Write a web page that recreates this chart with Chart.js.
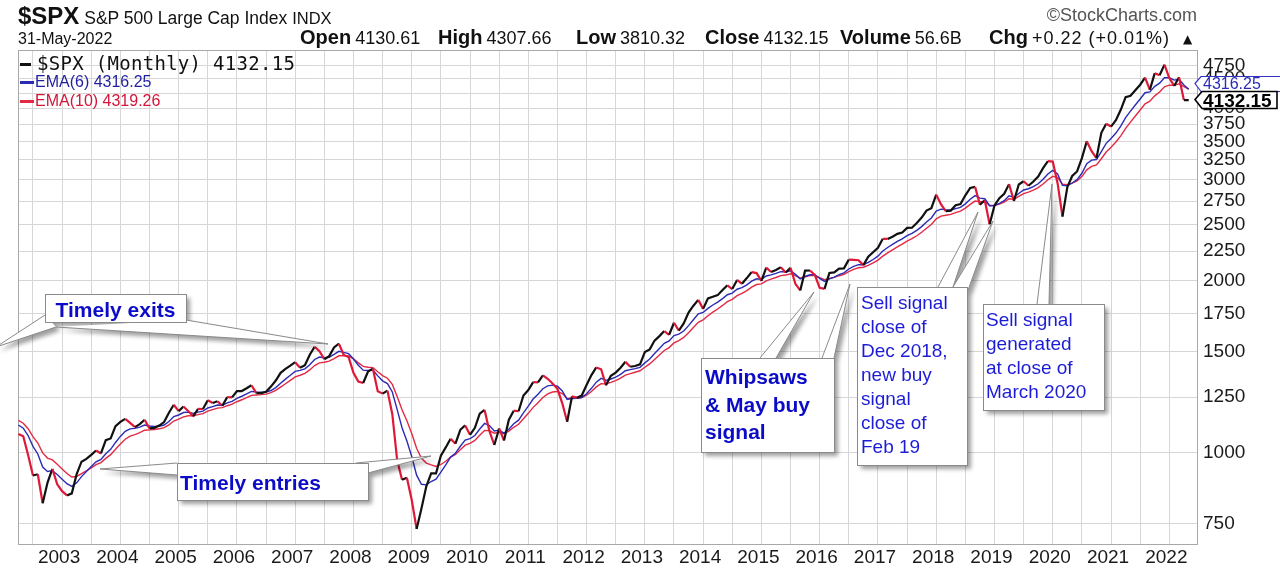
<!DOCTYPE html>
<html>
<head>
<meta charset="utf-8">
<script src="https://cdn.jsdelivr.net/npm/chart.js@4.4.1/dist/chart.umd.min.js"></script>
<style>
html,body{margin:0;padding:0;background:#fff;}
#wrap{position:relative;width:1280px;height:572px;overflow:hidden;font-family:'Liberation Sans',Arial,sans-serif;color:#111;}
#c{position:absolute;left:0;top:0;}
.t{position:absolute;white-space:nowrap;line-height:1;}
.g{position:absolute;white-space:nowrap;top:27px;font-size:20px;line-height:20px;}
.g b{font-weight:bold;}
.g span{font-size:18px;margin-left:4px;}
.note{position:absolute;white-space:nowrap;color:#1c1cd8;}
.dash{display:inline-block;vertical-align:middle;height:3px;}
</style>
</head>
<body>
<div id="wrap">
<canvas id="c" width="1280" height="572"></canvas>

<div class="t" style="left:18px;top:3.7px;font-size:24px;line-height:24px;"><b>$SPX</b><span style="font-size:17.5px"> S&amp;P 500 Large Cap Index </span><span style="font-size:16.5px">INDX</span></div>
<div class="t" style="right:83px;top:5.8px;font-size:18px;line-height:18px;color:#555;">©StockCharts.com</div>
<div class="t" style="left:18px;top:30.5px;font-size:16px;line-height:16px;">31-May-2022</div>
<div class="g" style="left:300px"><b>Open</b><span>4130.61</span></div>
<div class="g" style="left:438px"><b>High</b><span>4307.66</span></div>
<div class="g" style="left:576px"><b>Low</b><span>3810.32</span></div>
<div class="g" style="left:705px"><b>Close</b><span>4132.15</span></div>
<div class="g" style="left:840px"><b>Volume</b><span>56.6B</span></div>
<div class="g" style="left:989px"><b>Chg</b><span style="letter-spacing:1px">+0.22 (+0.01%)</span></div>
<div class="t" style="left:1183px;top:33px;font-size:12px;line-height:12px;font-family:'DejaVu Sans',sans-serif;">▲</div>

<div class="t" style="left:20px;top:54px;font-size:19px;line-height:19px;font-family:'DejaVu Sans Mono',monospace;color:#111;letter-spacing:0.3px;"><span class="dash" style="width:11px;background:#111;margin-right:6px;"></span>$SPX (Monthly) 4132.15</div>
<div class="t" style="left:20px;top:74px;font-size:16px;line-height:16px;color:#1f1fa0;"><span class="dash" style="width:14px;background:#2b2bb5;margin-right:1px;"></span>EMA(6) 4316.25</div>
<div class="t" style="left:20px;top:93px;font-size:16px;line-height:16px;color:#d3153a;"><span class="dash" style="width:14px;background:#e32a45;margin-right:1px;"></span>EMA(10) 4319.26</div>

<div class="note" style="left:45px;width:141px;text-align:center;top:298.5px;font-size:21px;line-height:21px;font-weight:bold;color:#0c0cc8;">Timely exits</div>
<div class="note" style="left:180px;top:471.5px;font-size:21px;line-height:21px;font-weight:bold;color:#0c0cc8;">Timely entries</div>
<div class="note" style="left:705px;top:363.25px;font-size:21px;line-height:27.5px;font-weight:bold;color:#0c0cc8;">Whipsaws<br>&amp; May buy<br>signal</div>
<div class="note" style="left:861px;top:291px;font-size:19px;line-height:24px;">Sell signal<br>close of<br>Dec 2018,<br>new buy<br>signal<br>close of<br>Feb 19</div>
<div class="note" style="left:986px;top:308px;font-size:19px;line-height:24px;">Sell signal<br>generated<br>at close of<br>March 2020</div>

<div class="t" style="left:1203px;top:76px;font-size:16px;line-height:16px;color:#2b2bb5;">4316.25</div>
<div class="t" style="left:1203px;top:90.5px;font-size:19px;line-height:19px;font-weight:bold;color:#000;">4132.15</div>
</div>

<script>
// ---- DATA (monthly, Apr 2002 .. May 2022) ----
const startYear = 2002;
const startMonth = 3; // April (0-based)

const spxClose = [
 1076.92,1067.14,989.82,911.62,916.07,815.28,885.76,936.31,879.82,
 855.70,841.15,848.18,916.92,963.59,974.50,990.31,1008.01,995.97,1050.71,1058.20,1111.92,
 1131.13,1144.94,1126.21,1107.30,1120.68,1140.84,1101.72,1104.24,1114.58,1130.20,1173.82,1211.92,
 1181.27,1203.60,1180.59,1156.85,1191.50,1191.33,1234.18,1220.33,1228.81,1207.01,1249.48,1248.29,
 1280.08,1280.66,1294.83,1310.61,1270.09,1270.20,1276.66,1303.82,1335.85,1377.94,1400.63,1418.30,
 1438.24,1406.82,1420.86,1482.37,1530.62,1503.35,1455.27,1473.99,1526.75,1549.38,1481.14,1468.36,
 1378.55,1330.63,1322.70,1385.59,1400.38,1280.00,1267.38,1282.83,1166.36,968.75,896.24,903.25,
 825.88,735.09,797.87,872.81,919.14,919.32,987.48,1020.62,1057.08,1036.19,1095.63,1115.10,
 1073.87,1104.49,1169.43,1186.69,1089.41,1030.71,1101.60,1049.33,1141.20,1183.26,1180.55,1257.64,
 1286.12,1327.22,1325.83,1363.61,1345.20,1320.64,1292.28,1218.89,1131.42,1253.30,1246.96,1257.60,
 1312.41,1365.68,1408.47,1397.91,1310.33,1362.16,1379.32,1406.58,1440.67,1412.16,1416.18,1426.19,
 1498.11,1514.68,1569.19,1597.57,1630.74,1606.28,1685.73,1632.97,1681.55,1756.54,1805.81,1848.36,
 1782.59,1859.45,1872.34,1883.95,1923.57,1960.23,1930.67,2003.37,1972.29,2018.05,2067.56,2058.90,
 1994.99,2104.50,2067.89,2085.51,2107.39,2063.11,2103.84,1972.18,1920.03,2079.36,2080.41,2043.94,
 1940.24,1932.23,2059.74,2065.30,2096.95,2098.86,2173.60,2170.95,2168.27,2126.15,2198.81,2238.83,
 2278.87,2363.64,2362.72,2384.20,2411.80,2423.41,2470.30,2471.65,2519.36,2575.26,2647.58,2673.61,
 2823.81,2713.83,2640.87,2648.05,2705.27,2718.37,2816.29,2901.52,2913.98,2711.74,2760.17,2506.85,
 2704.10,2784.49,2834.40,2945.83,2752.06,2941.76,2980.38,2926.46,2976.74,3037.56,3140.98,3230.78,
 3225.52,2954.22,2584.59,2912.43,3044.31,3100.29,3271.12,3500.31,3363.00,3269.96,3621.63,3756.07,
 3714.24,3811.15,3972.89,4181.17,4204.11,4297.50,4395.26,4522.68,4307.54,4605.38,4567.00,4766.18,
 4515.55,4373.94,4530.41,4131.93,4132.15
];

const ema6 = [
 1117.0,1102.7,1070.4,1025.0,993.9,942.9,926.6,929.4,915.2,
 898.2,881.9,872.3,885.0,907.5,926.6,944.8,962.9,972.4,994.8,1012.9,1041.2,
 1066.9,1089.2,1099.8,1101.9,1107.3,1116.9,1112.6,1110.2,1111.5,1116.8,1133.1,1155.6,
 1162.9,1174.5,1176.2,1170.7,1176.6,1180.8,1196.1,1203.0,1210.4,1209.4,1220.9,1228.7,
 1243.4,1254.1,1265.7,1278.5,1276.1,1274.4,1275.1,1283.3,1298.3,1321.0,1343.7,1365.0,
 1385.9,1391.9,1400.2,1423.7,1454.2,1468.2,1464.5,1467.2,1484.2,1502.8,1496.6,1488.5,
 1457.1,1421.0,1392.9,1390.8,1393.5,1361.1,1334.3,1319.6,1275.8,1188.1,1104.7,1047.1,
 983.9,912.8,880.0,877.9,889.7,898.2,923.7,951.4,981.6,997.2,1025.3,1051.0,
 1057.5,1070.9,1099.0,1124.1,1114.2,1090.3,1093.5,1080.9,1098.1,1122.4,1139.0,1172.9,
 1205.2,1240.1,1264.6,1292.9,1307.8,1311.5,1306.0,1281.1,1238.3,1242.6,1243.9,1247.8,
 1266.3,1294.7,1327.2,1347.4,1336.8,1344.1,1354.2,1369.2,1389.6,1396.1,1401.8,1408.8,
 1434.3,1457.3,1489.3,1520.2,1551.8,1567.4,1601.2,1610.3,1630.7,1666.6,1706.4,1747.0,
 1757.2,1786.4,1810.9,1831.8,1858.0,1887.2,1899.6,1929.3,1941.6,1963.5,1993.2,2012.0,
 2007.1,2034.9,2044.3,2056.1,2070.8,2068.6,2078.7,2048.3,2011.6,2031.0,2045.1,2044.8,
 2014.9,1991.3,2010.8,2026.4,2046.6,2061.5,2093.5,2115.6,2130.7,2129.4,2149.2,2174.8,
 2204.5,2250.0,2282.2,2311.3,2340.0,2363.8,2394.2,2416.3,2445.8,2482.8,2529.9,2571.0,
 2643.2,2663.4,2657.0,2654.4,2668.9,2683.0,2721.1,2772.6,2813.0,2784.1,2777.3,2700.0,
 2701.2,2725.0,2756.3,2810.4,2793.7,2836.0,2877.3,2891.4,2915.8,2950.6,3005.0,3069.5,
 3114.1,3068.4,2930.2,2925.1,2959.2,2999.5,3077.1,3198.0,3245.1,3252.2,3357.7,3471.5,
 3540.8,3618.1,3719.5,3851.4,3952.2,4050.9,4149.3,4256.0,4270.7,4366.3,4423.6,4521.5,
 4519.8,4478.1,4493.0,4389.8,4316.2
];

const ema10 = [
 1137.9,1125.0,1100.4,1066.1,1038.8,998.2,977.8,970.3,953.8,
 936.0,918.7,905.9,907.9,918.0,928.3,939.6,952.0,960.0,976.5,991.4,1013.3,
 1034.7,1054.7,1067.7,1074.9,1083.2,1093.7,1095.2,1096.8,1100.0,1105.5,1117.9,1135.0,
 1143.4,1154.3,1159.1,1158.7,1164.7,1169.5,1181.3,1188.4,1195.7,1197.8,1207.2,1214.7,
 1226.6,1236.4,1247.0,1258.6,1260.7,1262.4,1265.0,1272.1,1283.7,1300.8,1318.9,1337.0,
 1355.4,1364.7,1374.9,1394.4,1419.2,1434.5,1438.3,1444.8,1459.7,1476.0,1476.9,1475.4,
 1457.8,1434.7,1414.3,1409.1,1407.5,1384.3,1363.0,1348.4,1315.3,1252.3,1187.6,1135.9,
 1079.5,1016.9,977.1,958.1,951.0,945.2,952.9,965.2,981.9,991.8,1010.7,1029.7,
 1037.7,1049.8,1071.5,1092.4,1091.9,1080.8,1084.6,1078.2,1089.7,1106.7,1120.1,1145.1,
 1170.7,1199.2,1222.2,1247.9,1265.6,1275.6,1278.6,1267.7,1242.9,1244.8,1245.2,1247.5,
 1259.3,1278.6,1302.2,1319.6,1317.9,1326.0,1335.7,1348.6,1365.3,1373.8,1381.5,1389.6,
 1409.3,1428.5,1454.1,1480.2,1507.6,1525.5,1554.6,1568.9,1589.4,1619.8,1653.6,1689.0,
 1706.0,1733.9,1759.1,1781.8,1807.6,1835.3,1852.6,1880.0,1896.8,1918.9,1945.9,1966.4,
 1971.6,1995.8,2008.9,2022.8,2038.2,2042.7,2053.8,2039.0,2017.4,2028.7,2038.1,2039.2,
 2021.2,2005.0,2014.9,2024.1,2037.4,2048.6,2071.3,2089.4,2103.7,2107.8,2124.3,2145.1,
 2169.4,2204.7,2233.4,2260.8,2288.3,2312.9,2341.5,2365.2,2393.2,2426.3,2466.5,2504.2,
 2562.3,2589.8,2599.1,2608.0,2625.7,2642.6,2674.2,2715.5,2751.6,2744.3,2747.2,2703.5,
 2703.6,2718.3,2739.4,2776.9,2772.4,2803.2,2835.4,2852.0,2874.7,2904.3,2947.3,2998.8,
 3040.0,3024.4,2944.4,2938.6,2957.8,2983.7,3036.0,3120.4,3164.5,3183.7,3263.3,3352.9,
 3418.6,3490.0,3577.8,3687.5,3781.4,3875.2,3969.8,4070.3,4113.4,4202.9,4269.1,4359.5,
 4387.9,4385.4,4411.8,4360.9,4319.3
];

const yTicks = [750,1000,1250,1500,1750,2000,2250,2500,2750,3000,3250,3500,3750,4000,4250,4500,4750];

// ---- helpers ----
const monthOf = i => (startMonth + i) % 12;
const yearOf = i => startYear + Math.floor((startMonth + i) / 12);
const xGridIdx = [];
for (let i = 0; i < spxClose.length; i++) { const m = monthOf(i); if (m === 0 || m === 6) xGridIdx.push(i); }

const BLACK = '#111111', RED = '#e01838', BLUE = '#2b2bb5', RED10 = '#e32a45';
const GRID = '#d7d7d7';

Chart.defaults.font.family = "'Liberation Sans', Arial, sans-serif";

// callouts (pixel layout)
const callouts = [
  {x:45, y:294, w:141, h:28, ptrs:[[[45,315],[56,327],[-4,347]], [[56,327],[186,320],[328,344]]]},
  {x:177, y:463, w:191, h:37, ptrs:[[[177,463],[177,475],[100,469]], [[356,463],[368,473],[431,456]]]},
  {x:701, y:358, w:133, h:94, ptrs:[[[760,358],[776,358],[814,292]], [[822,358],[834,358],[850,284]]]},
  {x:857, y:287, w:110, h:178, ptrs:[[[938,287],[953,287],[978,212]], [[953,287],[967,293],[993,221]]]},
  {x:983, y:304, w:121, h:106, ptrs:[[[1037,304],[1049,304],[1052,184]]]}
];

function orient(t){
  const [a,b,c] = t;
  const area = (b[0]-a[0])*(c[1]-a[1]) - (c[0]-a[0])*(b[1]-a[1]);
  return area >= 0 ? t : [a,c,b];
}

function drawCallout(ctx, c){
  ctx.save();
  ctx.shadowColor = 'rgba(0,0,0,0.38)';
  ctx.shadowOffsetX = 4; ctx.shadowOffsetY = 4; ctx.shadowBlur = 4;
  ctx.fillStyle = '#fff';
  ctx.beginPath();
  ctx.rect(c.x, c.y, c.w, c.h);
  c.ptrs.forEach(p => { const q = orient(p); ctx.moveTo(q[0][0],q[0][1]); ctx.lineTo(q[1][0],q[1][1]); ctx.lineTo(q[2][0],q[2][1]); ctx.closePath(); });
  ctx.fill('nonzero');
  ctx.restore();
  ctx.save();
  ctx.strokeStyle = '#8a8a8a'; ctx.lineWidth = 1;
  c.ptrs.forEach(p => { ctx.beginPath(); ctx.moveTo(p[0][0],p[0][1]); ctx.lineTo(p[2][0],p[2][1]); ctx.lineTo(p[1][0],p[1][1]); ctx.stroke(); });
  ctx.fillStyle = '#fff';
  ctx.fillRect(c.x, c.y, c.w, c.h);
  ctx.strokeRect(c.x + 0.5, c.y + 0.5, c.w, c.h);
  ctx.restore();
}

const framePlugin = {
  id: 'frame',
  beforeDatasetsDraw(chart){
    const {ctx, chartArea:a} = chart;
    ctx.save(); ctx.strokeStyle = '#a8a8a8'; ctx.lineWidth = 1;
    ctx.strokeRect(Math.round(a.left)+0.5, Math.round(a.top)+0.5, Math.round(a.right-a.left), Math.round(a.bottom-a.top));
    ctx.restore();
  },
  afterDraw(chart){
    const ctx = chart.ctx;
    callouts.forEach(c => drawCallout(ctx, c));
    // value tags on the right axis
    ctx.save();
    ctx.fillStyle = '#fff'; ctx.strokeStyle = '#3333c0'; ctx.lineWidth = 1.2;
    ctx.beginPath();
    ctx.moveTo(1195,83.5); ctx.lineTo(1201,76.5); ctx.lineTo(1281,76.5); ctx.lineTo(1281,91.5); ctx.lineTo(1201,91.5); ctx.closePath();
    ctx.fill(); ctx.stroke();
    ctx.strokeStyle = '#000'; ctx.lineWidth = 1.6;
    ctx.beginPath();
    ctx.moveTo(1195,99.5); ctx.lineTo(1202,91.5); ctx.lineTo(1277,91.5); ctx.lineTo(1277,108.5); ctx.lineTo(1202,108.5); ctx.closePath();
    ctx.fill(); ctx.stroke();
    ctx.restore();
  }
};

const toXY = arr => arr.map((v, i) => ({x: i, y: v}));

new Chart(document.getElementById('c'), {
  type: 'line',
  data: {
    datasets: [
      {label:'$SPX (Monthly)', data: toXY(spxClose), borderColor: BLACK, borderWidth: 2.2, pointRadius: 0, tension: 0,
       segment: { borderColor: ctx => ctx.p1.parsed.y < ctx.p0.parsed.y ? RED : BLACK }},
      {label:'EMA(6)', data: toXY(ema6), borderColor: BLUE, borderWidth: 1.4, pointRadius: 0, tension: 0},
      {label:'EMA(10)', data: toXY(ema10), borderColor: RED10, borderWidth: 1.4, pointRadius: 0, tension: 0}
    ]
  },
  options: {
    responsive: false,
    animation: false,
    devicePixelRatio: 1,
    layout: { padding: { left: 18, top: 50, right: 0, bottom: 0 } },
    plugins: { legend: { display: false }, tooltip: { enabled: false } },
    scales: {
      x: {
        type: 'linear', position: 'bottom', min: -0.08, max: 242.7,
        afterBuildTicks: s => { s.ticks = xGridIdx.map(v => ({value: v})); },
        afterFit: s => { s.height = 28; },
        grid: { color: GRID, lineWidth: 1, drawTicks: false },
        border: { display: false },
        ticks: { autoSkip: false, maxRotation: 0, padding: 2, labelOffset: -3, color: '#1a1a1a',
                 font: { size: 19 }, callback: v => monthOf(v) === 0 ? String(yearOf(v)) : '' }
      },
      y: {
        type: 'logarithmic', position: 'right', min: 691.8, max: 5055,
        afterBuildTicks: s => { s.ticks = yTicks.map(v => ({value: v})); },
        afterFit: s => { s.width = 83; },
        grid: { color: GRID, lineWidth: 1, drawTicks: false },
        border: { display: false },
        ticks: { autoSkip: false, padding: 6, color: '#1a1a1a', font: { size: 19 }, callback: v => String(v) }
      }
    }
  },
  plugins: [framePlugin]
});
</script>
</body>
</html>
